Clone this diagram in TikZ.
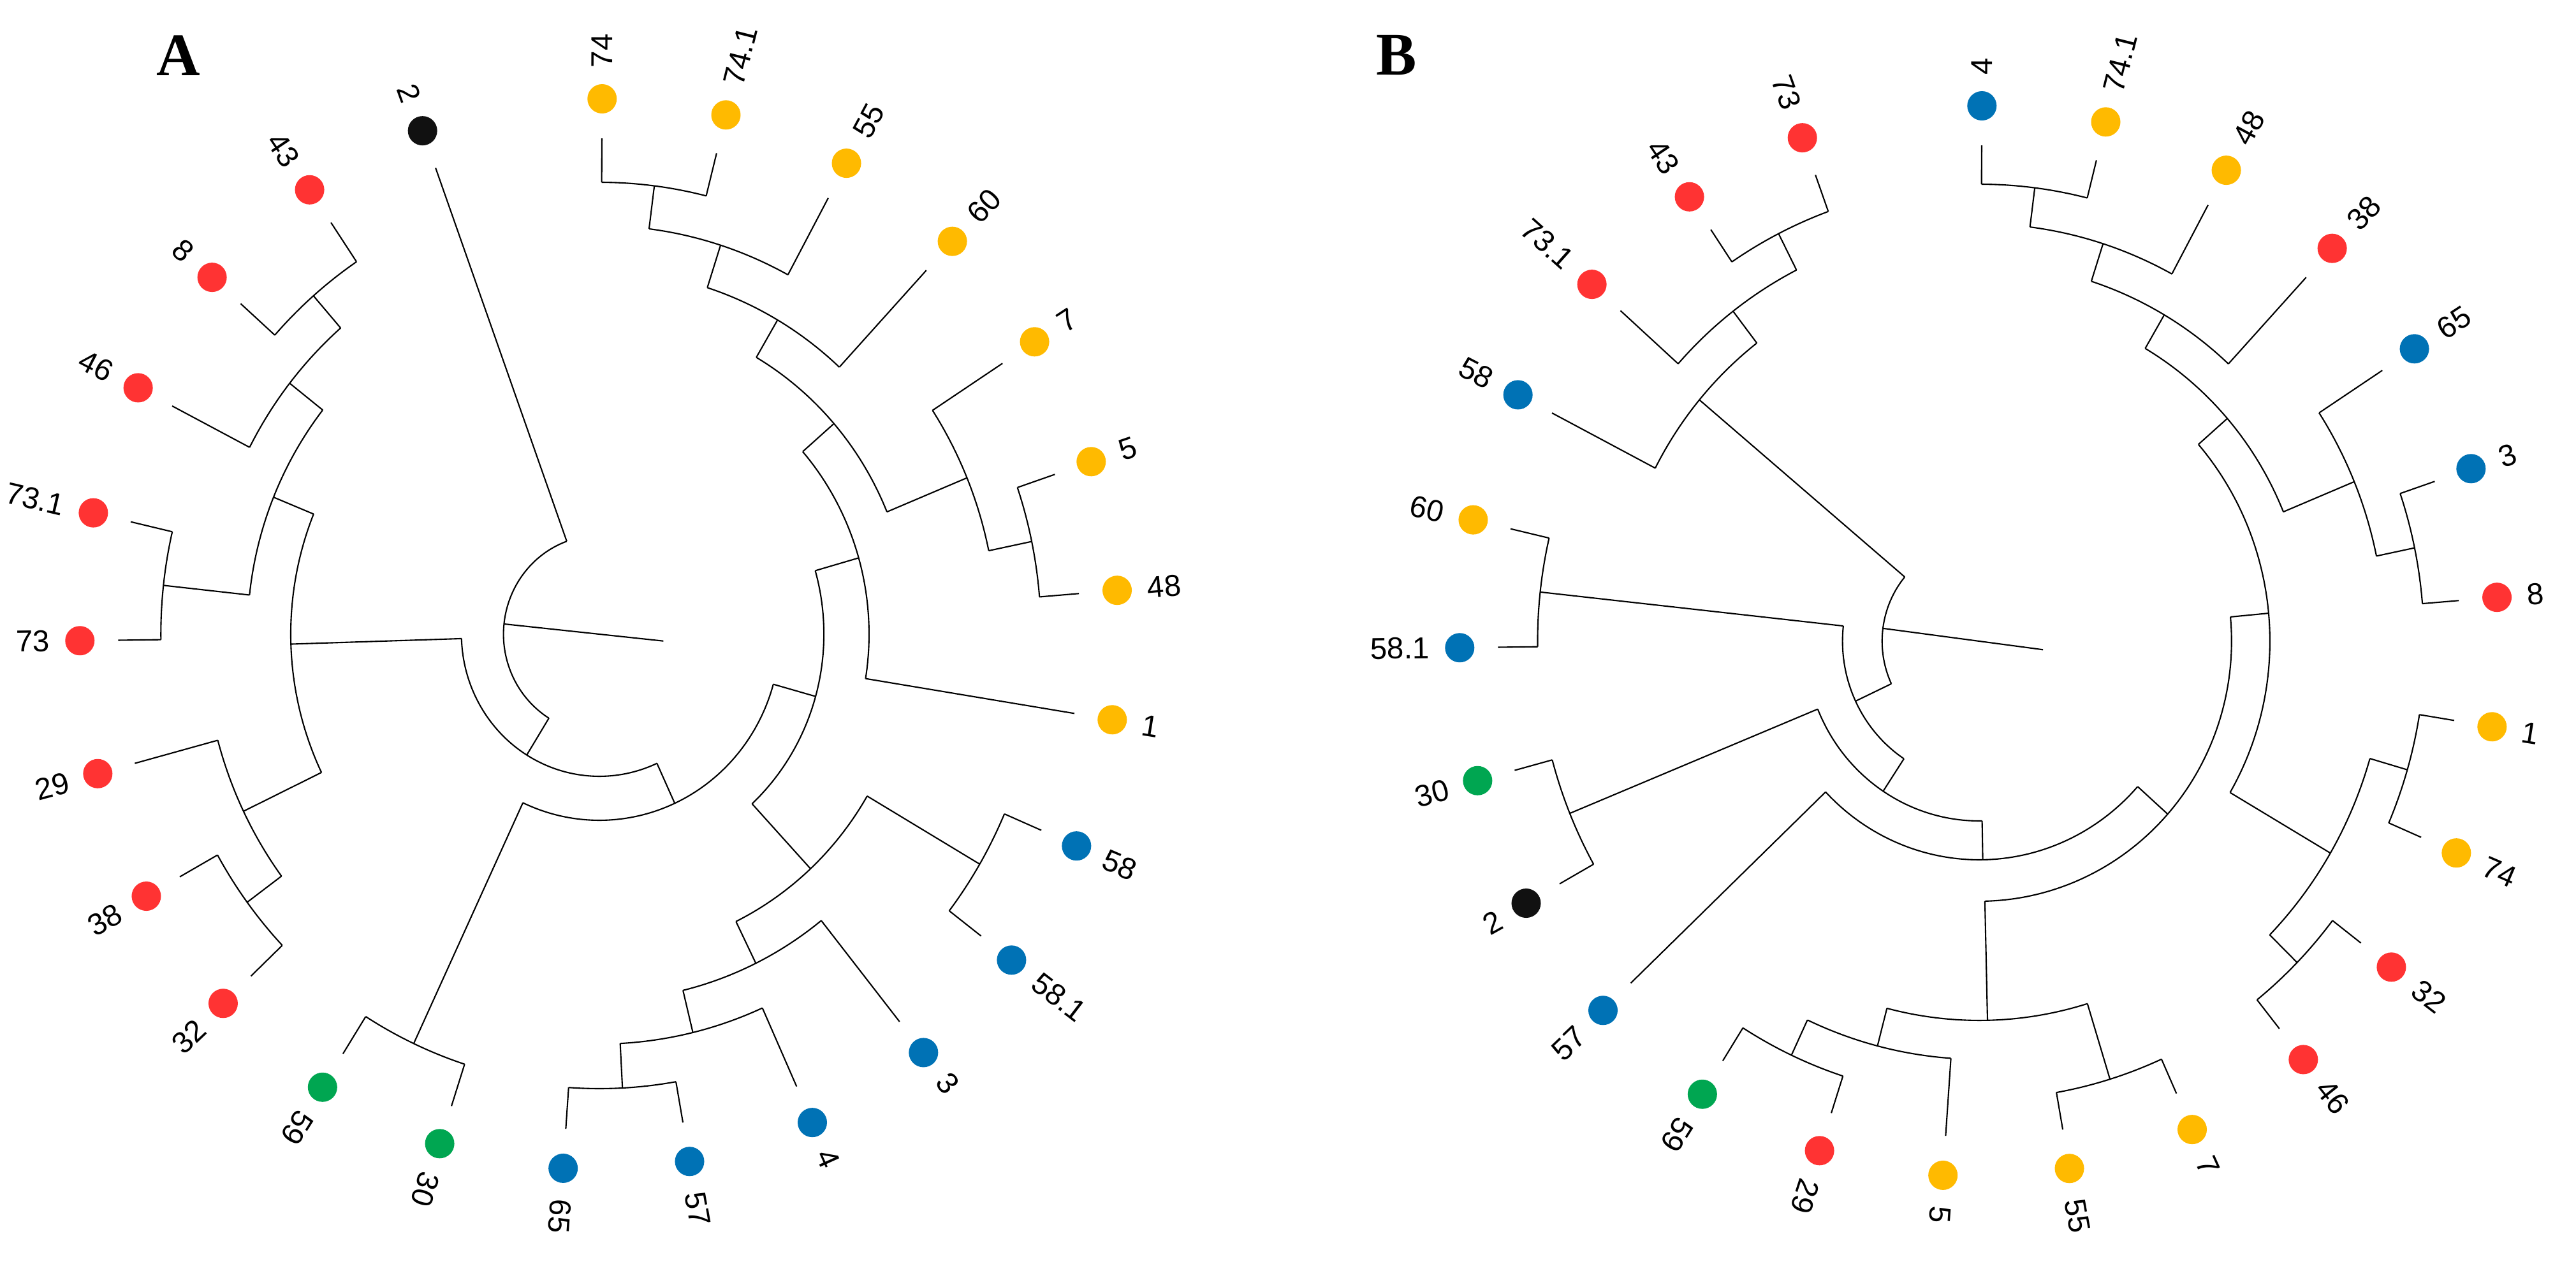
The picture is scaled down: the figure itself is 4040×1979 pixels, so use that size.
\documentclass[tikz,border=0pt]{standalone}
\usepackage{fontspec}
\setmainfont{Liberation Sans}
\newfontfamily\lserif{Liberation Serif}
\definecolor{cr}{HTML}{FF3333}
\definecolor{cy}{HTML}{FFBA00}
\definecolor{cb}{HTML}{0072B5}
\definecolor{cg}{HTML}{00A651}
\definecolor{ck}{HTML}{111111}
\begin{document}
\begin{tikzpicture}[x=0.01cm,y=0.01cm,line width=0.6pt,
  dot/.style={circle,inner sep=0pt,minimum size=0.46cm,draw=none},
  lab/.style={inner sep=0pt,font=\fontsize{13.5}{15}\selectfont},
  panel/.style={font=\lserif\bfseries\fontsize{27}{30}\selectfont}]
\useasboundingbox (0,0) rectangle (4040,1979);
\node[panel] (pA) at (280,1892) {A};
\node[panel] (pB) at (2190,1892) {B};
% ---------------- Panel A ----------------
\begin{scope}[shift={(940,984)},xscale=0.97]
\draw (174.07:155) -- (-5.93:104);
\foreach \r/\s/\e in {155/109.9/238.23,223/181.79/294.67,499/157.81/205.775,569/141.825/173.8,
 709/166.9/180.7,637/131.05/152.6,704/123.9/138.2,639/-164.9/-143.55,708/-150.7/-136.4,
 292/-115.05/-15.61,709/-122.2/-107.9,363/-47.15/15.93,502/-63.9/-30.4,713/-37.5/-23.3,
 575/-76.4/-51.4,643/-87/-65.8,713/-94/-80,436/-9.2/41.06,503/22.425/59.7,571/47.2/72.2,
 641/61.6/82.8,709/75.9/89.7,643/11.75/33.1,714/4.7/18.8}
 {\draw (\s:\r) arc[start angle=\s,end angle=\e,radius=\r];}
\foreach \a/\i/\o in {238.23/155/223,181.79/223/499,-65.33/223/292,157.81/499/569,-154.225/499/639,
 173.8/569/709,141.825/569/637,131.05/637/704,-143.55/639/708,-115.05/292/709,-15.61/292/363,
 -47.15/363/502,15.93/363/436,-30.4/502/713,-63.9/502/575,-76.4/575/643,-87/643/713,
 41.06/436/503,59.7/503/571,22.425/503/643,72.2/571/641,82.8/641/709,11.75/643/714}
 {\draw (\a:\i) -- (\a:\o);}
\foreach \a/\c/\t/\p [count=\k] in {89.7/cy/74/709,75.9/cy/74.1/709,61.6/cy/55/641,47.2/cy/60/571,
 33.1/cy/7/643,18.8/cy/5/714,4.7/cy/48/714,-9.2/cy/1/436,-23.3/cb/58/713,-37.5/cb/58.1/713,
 -51.4/cb/3/575,-65.8/cb/4/643,-80/cb/57/713,-94/cb/65/713,-107.9/cg/30/709,-122.2/cg/59/709}
 {\draw (\a:\p) -- (\a:778);
  \node[dot,fill=\c] (AR\k) at (\a:840) {};
  \node[lab,anchor=west,rotate=\a] (ARt\k) at (\a:888) {\t};}
\foreach \a/\c/\t/\p [count=\k] in {-136.4/cr/32/708,-150.7/cr/38/708,-164.9/cr/29/639,
 180.7/cr/73/709,166.9/cr/73.1/709,152.6/cr/46/637,138.2/cr/8/704,123.9/cr/43/704,109.9/ck/2/155}
 {\draw (\a:\p) -- (\a:778);
  \node[dot,fill=\c] (AL\k) at (\a:840) {};
  \node[lab,anchor=east,rotate=\a+180] (ALt\k) at (\a:888) {\t};}
\end{scope}
% ---------------- Panel B ----------------
\begin{scope}[shift={(3104,973)},xscale=0.97]
\draw (172.63:157) -- (-7.37:104);
\foreach \r/\s/\e in {157/140.075/205.19,221/173.8/236.58,714/166.9/180.7,282/-157.8/-89.04,
 715/-164.9/-150.7,343/-136.4/-41.68,408/-88.71/5.355,595/-104.525/-72.9,719/-80/-65.8,
 656/-115.05/-94,717/-122.2/-107.9,470/-30.35/41.06,658/-44.45/-16.25,721/-23.3/-9.2,
 720/-51.4/-37.5,532/22.425/59.7,656/11.75/33.1,719/4.7/18.8,593/47.2/72.2,655/61.6/82.8,
 717/75.9/89.7,590/127.55/152.6,653/116.9/138.2,717/109.9/123.9}
 {\draw (\s:\r) arc[start angle=\s,end angle=\e,radius=\r];}
\foreach \a/\i/\o in {140.075/157/590,205.19/157/221,173.8/221/714,236.58/221/282,-157.8/282/715,
 -89.04/282/343,-41.68/343/408,-88.71/408/595,-72.9/595/719,-104.525/595/656,-115.05/656/717,
 5.355/408/470,-30.35/470/658,-16.25/658/721,-44.45/658/720,41.06/470/532,22.425/532/656,
 11.75/656/719,59.7/532/593,72.2/593/655,82.8/655/717,127.55/590/653,116.9/653/717}
 {\draw (\a:\i) -- (\a:\o);}
\foreach \a/\c/\t/\p [count=\k] in {89.7/cb/4/717,75.9/cy/74.1/717,61.6/cy/48/655,47.2/cr/38/593,
 33.1/cb/65/656,18.8/cb/3/719,4.7/cr/8/719,-9.2/cy/1/721,-23.3/cy/74/721,-37.5/cr/32/720,
 -51.4/cr/46/720,-65.8/cy/7/719,-80/cy/55/719,-94/cy/5/656,-107.9/cr/29/717,-122.2/cg/59/717}
 {\draw (\a:\p) -- (\a:778);
  \node[dot,fill=\c] (BR\k) at (\a:840) {};
  \node[lab,anchor=west,rotate=\a] (BRt\k) at (\a:888) {\t};}
\foreach \a/\c/\t/\p [count=\k] in {-136.4/cb/57/343,-150.7/ck/2/715,-164.9/cg/30/715,
 180.7/cb/58.1/714,166.9/cy/60/714,152.6/cb/58/590,138.2/cr/73.1/653,123.9/cr/43/717,109.9/cr/73/717}
 {\draw (\a:\p) -- (\a:778);
  \node[dot,fill=\c] (BL\k) at (\a:840) {};
  \node[lab,anchor=east,rotate=\a+180] (BLt\k) at (\a:888) {\t};}
\end{scope}
\end{tikzpicture}
\end{document}
